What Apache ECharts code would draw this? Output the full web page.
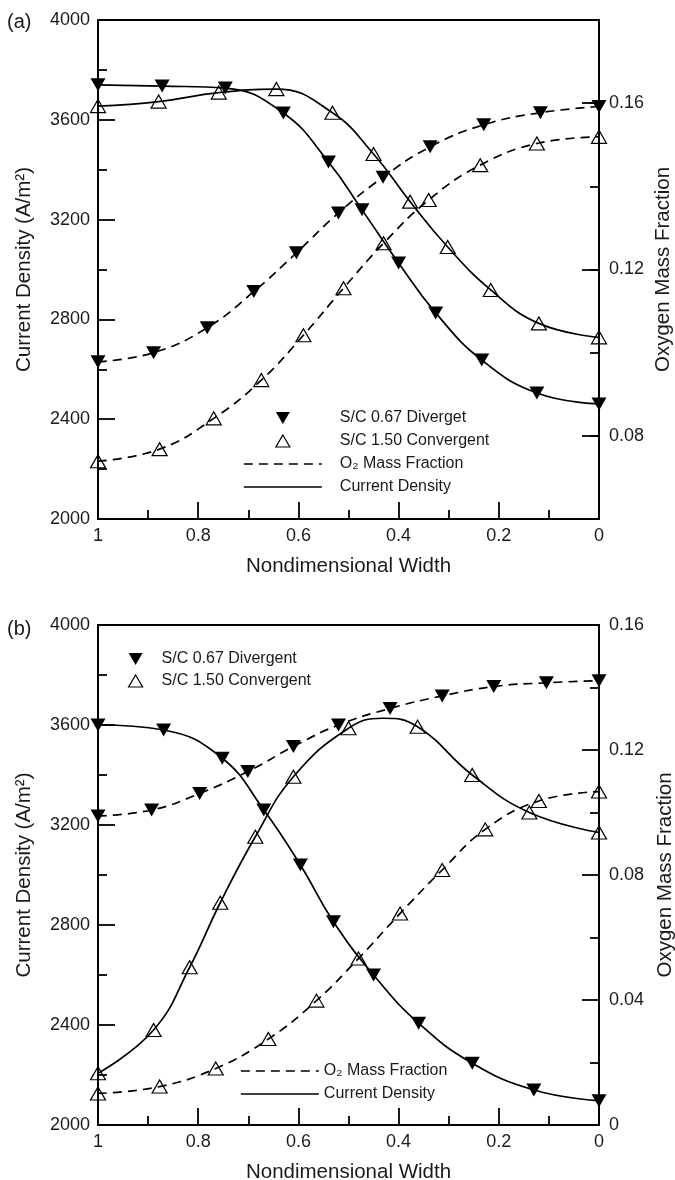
<!DOCTYPE html>
<html><head><meta charset="utf-8">
<script src="https://cdn.jsdelivr.net/npm/echarts@6/dist/echarts.min.js"></script>
<style>html,body{margin:0;padding:0;background:#fff}#c{width:675px;height:1180px}</style>
</head><body><div id="c"></div>
<script>
// ---------- Panel (a) data ----------
const aFilledCdX = [1, 0.872, 0.746, 0.63, 0.54, 0.473, 0.40, 0.326, 0.234, 0.124, 0];
const aFilledCd  = [3740, 3735, 3727, 3627, 3431, 3239, 3026, 2826, 2637, 2505, 2461];
const aOpenCdX   = [1, 0.879, 0.759, 0.644, 0.532, 0.45, 0.377, 0.302, 0.216, 0.12, 0];
const aOpenCd    = [3655, 3673, 3709, 3723, 3628, 3463, 3272, 3090, 2918, 2784, 2728];
const aFilledO2X = [1, 0.889, 0.782, 0.689, 0.604, 0.52, 0.431, 0.337, 0.230, 0.117, 0];
const aFilledO2  = [0.0978, 0.1000, 0.1060, 0.1147, 0.1240, 0.1336, 0.1422, 0.1495, 0.1548, 0.1577, 0.1592];
const aOpenO2X   = [1, 0.877, 0.769, 0.674, 0.590, 0.51, 0.43, 0.34, 0.237, 0.124, 0];
const aOpenO2    = [0.0739, 0.0768, 0.0842, 0.0934, 0.1042, 0.1155, 0.1263, 0.1367, 0.1451, 0.1503, 0.1519];

// ---------- Panel (b) data ----------
const bFilledCdX = [1, 0.869, 0.752, 0.669, 0.596, 0.53, 0.45, 0.36, 0.253, 0.13, 0];
const bFilledCd  = [3600, 3580, 3467, 3260, 3040, 2813, 2600, 2407, 2247, 2140, 2097];
const bOpenCdX   = [1, 0.889, 0.817, 0.756, 0.686, 0.61, 0.50, 0.362, 0.253, 0.139, 0];
const bOpenCd    = [2207, 2380, 2631, 2889, 3153, 3393, 3587, 3593, 3400, 3250, 3170];
const bOpenCdCurvePeak = [0.432, 3627];   // apex of the fitted curve (no marker there)
const bFilledO2X = [1, 0.893, 0.797, 0.701, 0.61, 0.52, 0.417, 0.313, 0.21, 0.105, 0];
const bFilledO2  = [0.0989, 0.1008, 0.1061, 0.1131, 0.1211, 0.128, 0.1333, 0.1373, 0.1403, 0.1415, 0.1422];
const bOpenO2X   = [1, 0.877, 0.765, 0.66, 0.564, 0.48, 0.397, 0.313, 0.227, 0.12, 0];
const bOpenO2    = [0.0101, 0.0123, 0.0181, 0.0275, 0.0398, 0.0533, 0.0677, 0.0816, 0.0946, 0.1037, 0.1067];

// ---------- texts ----------
const panelLabels = ['(a)', '(b)'];
const xName = 'Nondimensional Width';
const yLeftName = 'Current Density (A/m\u00B2)';
const yRightName = 'Oxygen Mass Fraction';
const legA = ['S/C 0.67 Diverget', 'S/C 1.50 Convergent'];
const legB = ['S/C 0.67 Divergent', 'S/C 1.50 Convergent'];
const legLines = ['O\u2082 Mass Fraction', 'Current Density'];

const FONT = '"Liberation Sans", Arial, sans-serif';
const INK = '#1a1a1a';
const DOWN = 'path://M0,0L14,0L7,12Z';
const UP = 'path://M7,0L14,12L0,12Z';
const DASH = [9, 6];
const AXW = 1.8;
const SYM = [15, 13];

const pairs = (xs, ys) => xs.map((x, i) => [x, ys[i]]);

const gridA = {left: 98, right: 76, top: 20, height: 499};
const gridB = {left: 98, right: 76, top: 625, height: 500};
const gridADeco = {left: 98, right: 76, top: 20 + 499 / 6, height: 499 * 2 / 3};

const tickStyle = {color: '#000', width: AXW};
const plain = (v) => String(Math.round(v * 10000) / 10000);
const lbl = (m) => ({margin: m, fontSize: 18, color: INK, fontFamily: FONT, formatter: plain});
const nameStyle = {fontSize: 20.5, color: INK, fontFamily: FONT};
const axLine = {show: true, onZero: false, lineStyle: tickStyle};

function xAxisCfg(gi) {
  return {
    gridIndex: gi, type: 'value', min: 0, max: 1, interval: 0.2, inverse: true,
    name: xName, nameLocation: 'middle', nameGap: 37, nameTextStyle: nameStyle,
    axisLine: axLine,
    axisTick: {show: true, inside: true, length: 17, lineStyle: tickStyle},
    minorTick: {show: true, splitNumber: 2, length: 9, lineStyle: tickStyle},
    splitLine: {show: false}, minorSplitLine: {show: false},
    axisLabel: lbl(8)
  };
}
function yLeftCfg(gi) {
  return {
    gridIndex: gi, type: 'value', position: 'left', min: 2000, max: 4000, interval: 400,
    name: yLeftName, nameLocation: 'middle', nameRotate: 90, nameGap: 63, nameTextStyle: nameStyle,
    axisLine: axLine,
    axisTick: {show: true, inside: true, length: 17, lineStyle: tickStyle},
    minorTick: {show: true, splitNumber: 2, length: 9, lineStyle: tickStyle},
    splitLine: {show: false}, minorSplitLine: {show: false},
    axisLabel: lbl(8)
  };
}

function lineSeries(name, xi, yi, data, filled, dashed) {
  return {
    name: name, type: 'line', xAxisIndex: xi, yAxisIndex: yi,
    data: data, smooth: 0.45,
    symbol: filled ? DOWN : UP, symbolSize: SYM,
    lineStyle: {color: '#000', width: 1.7, type: dashed ? DASH : 'solid'},
    itemStyle: filled ? {color: '#000', borderWidth: 0}
                      : {color: 'rgba(255,255,255,0)', borderColor: '#000', borderWidth: 1.2},
    emphasis: {disabled: true}, z: filled ? 3 : 4
  };
}
function dummy(name, dashed) {
  return {
    name: name, type: 'line', xAxisIndex: 0, yAxisIndex: 0, data: [], symbol: 'none',
    lineStyle: {color: '#000', width: 1.7, type: dashed ? DASH : 'solid'},
    itemStyle: {color: '#000'}
  };
}

// open-triangle (b) current density: markers plus the curve apex (drawn without a marker)
const bOpenCdData = pairs(bOpenCdX, bOpenCd);
bOpenCdData.splice(7, 0, {value: bOpenCdCurvePeak, symbol: 'none'});

const markerItems = (names) => [
  {name: names[0], icon: DOWN, itemStyle: {color: '#000', borderWidth: 0}},
  {name: names[1], icon: UP, itemStyle: {color: 'rgba(255,255,255,0)', borderColor: '#000', borderWidth: 1.2}}
];
const lineItems = [
  {name: legLines[0], itemStyle: {opacity: 0}, lineStyle: {color: '#000', width: 1.7, type: DASH}},
  {name: legLines[1], itemStyle: {opacity: 0}, lineStyle: {color: '#000', width: 1.7, type: 'solid'}}
];
const legText = (pad) => ({fontSize: 16, color: INK, fontFamily: FONT, padding: [0, 0, 0, pad]});

const option = {
  backgroundColor: '#fff',
  animation: false,
  title: [
    {text: panelLabels[0], left: 7, top: 12, padding: 0, textStyle: {fontSize: 20, fontWeight: 'normal', color: INK, fontFamily: FONT}},
    {text: panelLabels[1], left: 7, top: 619, padding: 0, textStyle: {fontSize: 20, fontWeight: 'normal', color: INK, fontFamily: FONT}}
  ],
  grid: [
    Object.assign({show: true, borderColor: '#000', borderWidth: AXW, outerBoundsMode: 'none'}, gridA),
    Object.assign({show: true, borderColor: '#000', borderWidth: AXW, outerBoundsMode: 'none'}, gridB),
    Object.assign({show: false, outerBoundsMode: 'none'}, gridADeco)
  ],
  xAxis: [
    xAxisCfg(0), xAxisCfg(1),
    {gridIndex: 2, type: 'value', min: 0, max: 1, show: false, axisLine: {onZero: false}}
  ],
  yAxis: [
    yLeftCfg(0),
    { // right axis (a): data scale + short ticks
      gridIndex: 0, type: 'value', position: 'right', min: 0.06, max: 0.18, interval: 0.02,
      name: yRightName, nameLocation: 'middle', nameRotate: 90, nameGap: 54, nameTextStyle: nameStyle,
      axisLine: axLine,
      axisTick: {show: true, inside: true, length: 9, lineStyle: tickStyle},
      splitLine: {show: false}, axisLabel: {show: false}
    },
    yLeftCfg(1),
    { // right axis (b)
      gridIndex: 1, type: 'value', position: 'right', min: 0, max: 0.16, interval: 0.04,
      name: yRightName, nameLocation: 'middle', nameRotate: 90, nameGap: 54, nameTextStyle: nameStyle,
      axisLine: axLine,
      axisTick: {show: true, inside: true, length: 17, lineStyle: tickStyle},
      minorTick: {show: true, splitNumber: 2, length: 9, lineStyle: tickStyle},
      splitLine: {show: false}, minorSplitLine: {show: false},
      axisLabel: lbl(10)
    },
    { // right axis (a): long labelled ticks at 0.08 / 0.12 / 0.16
      gridIndex: 2, type: 'value', position: 'right', min: 0.08, max: 0.16, interval: 0.04,
      axisLine: {show: false, onZero: false},
      axisTick: {show: true, inside: true, length: 17, lineStyle: tickStyle},
      splitLine: {show: false}, axisLabel: lbl(10)
    }
  ],
  legend: [
    {left: 243, top: 410, orient: 'vertical', padding: 0, itemWidth: 78, itemHeight: 12, itemGap: 7,
     selectedMode: false, textStyle: legText(13), data: markerItems(legA).concat(lineItems)},
    {left: 128, top: 651, orient: 'vertical', padding: 0, itemWidth: 14, itemHeight: 12, itemGap: 6,
     selectedMode: false, textStyle: legText(14), data: markerItems(legB)},
    {left: 240, top: 1063, orient: 'vertical', padding: 0, itemWidth: 78, itemHeight: 12, itemGap: 7,
     selectedMode: false, textStyle: legText(0), data: lineItems}
  ],
  series: [
    lineSeries(legA[0], 0, 0, pairs(aFilledCdX, aFilledCd), true, false),
    lineSeries(legA[1], 0, 0, pairs(aOpenCdX, aOpenCd), false, false),
    lineSeries('aFilledO2', 0, 1, pairs(aFilledO2X, aFilledO2), true, true),
    lineSeries('aOpenO2', 0, 1, pairs(aOpenO2X, aOpenO2), false, true),
    lineSeries(legB[0], 1, 2, pairs(bFilledCdX, bFilledCd), true, false),
    lineSeries('bOpenCd', 1, 2, bOpenCdData, false, false),
    lineSeries('bFilledO2', 1, 3, pairs(bFilledO2X, bFilledO2), true, true),
    lineSeries('bOpenO2', 1, 3, pairs(bOpenO2X, bOpenO2), false, true),
    dummy(legLines[0], true),
    dummy(legLines[1], false)
  ]
};

const chart = echarts.init(document.getElementById('c'), null, {renderer: 'canvas'});
chart.setOption(option);
</script>
</body></html>
